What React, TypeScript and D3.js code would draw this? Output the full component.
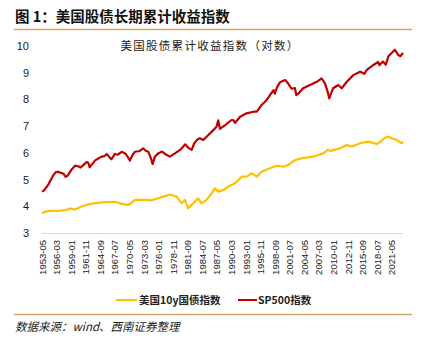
import React from "react";
import * as d3 from "d3";

const xTickLabels = [
  "1953-05","1956-03","1959-01","1961-11","1964-09","1967-07","1970-05","1973-03",
  "1976-01","1978-11","1981-09","1984-07","1987-05","1990-03","1993-01","1995-11",
  "1998-09","2001-07","2004-05","2007-03","2010-01","2012-11","2015-09","2018-07","2021-05",
];
const yTicks = [3, 4, 5, 6, 7, 8, 9, 10];

const spDates = [
  "1953-05","1953-10","1954-08","1955-07","1956-01","1956-07","1957-01","1957-07","1957-12","1958-05",
  "1959-02","1959-10","1960-05","1960-11","1961-06","1962-01","1962-05","1962-08","1963-02","1963-09",
  "1964-05","1964-12","1965-07","1965-12","1966-07","1966-11","1967-07","1968-01","1968-11","1969-07",
  "1970-01","1970-06","1970-12","1971-06","1972-05","1973-01","1973-07","1974-01","1974-07","1974-11",
  "1975-04","1975-12","1976-09","1977-04","1978-03","1979-03","1980-03","1980-11","1981-03","1981-10",
  "1982-06","1982-12","1983-06","1984-01","1984-09","1985-09","1986-09","1987-04","1987-08","1987-12",
  "1988-12","1990-03","1990-08","1990-11","1991-11","1993-02","1994-06","1995-02","1996-01","1997-01",
  "1997-09","1998-05","1998-08","1999-01","1999-08","2000-08","2001-02","2001-07","2001-11","2002-07",
  "2002-10","2003-03","2004-02","2005-06","2006-10","2007-09","2008-05","2008-11","2009-03","2009-12",
  "2010-12","2011-08","2012-08","2013-11","2015-03","2016-01","2016-06","2017-10","2018-09","2018-12",
  "2019-08","2020-03","2020-09","2021-05","2021-12","2022-08","2023-01","2023-07",
];
const spValues = [
  4.55,4.60,4.82,5.15,5.28,5.29,5.25,5.22,5.10,5.15,
  5.38,5.52,5.50,5.45,5.55,5.66,5.63,5.46,5.58,5.72,
  5.80,5.86,5.88,5.96,5.82,5.76,5.96,5.93,6.04,5.98,
  5.85,5.71,5.92,6.04,6.07,6.17,6.08,6.04,5.80,5.58,
  5.85,5.98,6.05,5.96,5.86,5.98,6.11,6.25,6.32,6.19,
  6.11,6.35,6.48,6.55,6.48,6.67,6.86,6.98,7.22,6.90,
  7.04,7.23,7.22,7.12,7.35,7.48,7.54,7.54,7.79,7.98,
  8.17,8.35,8.22,8.45,8.64,8.73,8.62,8.50,8.40,8.42,
  8.16,8.22,8.42,8.54,8.66,8.79,8.60,8.30,8.04,8.42,
  8.54,8.42,8.66,8.91,9.04,8.96,9.10,9.29,9.40,9.28,
  9.42,9.30,9.62,9.75,9.86,9.66,9.62,9.74,
];

const bondDates = [
  "1953-05","1954-01","1955-01","1956-09","1958-02","1958-10","1959-10","1961-02","1962-07","1965-01",
  "1967-07","1968-11","1970-01","1970-06","1971-06","1973-01","1974-07","1975-12","1977-04","1978-03",
  "1979-07","1980-07","1981-02","1981-10","1982-10","1983-09","1984-05","1985-05","1986-05","1986-12",
  "1987-08","1988-08","1989-07","1990-11","1992-03","1993-02","1994-02","1995-02","1996-01","1997-09",
  "1998-12","2000-04","2001-04","2002-07","2003-11","2005-02","2006-06","2008-01","2008-12","2009-05",
  "2011-04","2012-08","2013-08","2015-03","2016-10","2018-06","2020-05","2021-05","2022-04","2023-04",
  "2023-07",
];
const bondValues = [
  3.75,3.80,3.83,3.83,3.86,3.92,3.88,4.00,4.08,4.15,
  4.17,4.09,4.05,4.08,4.24,4.25,4.22,4.30,4.38,4.44,
  4.36,4.11,4.24,3.93,4.11,4.30,4.11,4.24,4.49,4.67,
  4.55,4.61,4.73,4.86,5.11,5.11,5.23,5.11,5.29,5.42,
  5.52,5.48,5.55,5.73,5.80,5.83,5.88,5.98,6.12,6.07,
  6.17,6.29,6.24,6.36,6.42,6.33,6.61,6.55,6.48,6.36,
  6.42,
];

const parse = d3.timeParse("%Y-%m");

export default function App() {
  const W = 426, H = 340;
  const x = d3.scaleTime()
    .domain([parse("1953-05")!, parse("2023-07")!])
    .range([42, 403]);
  const y = d3.scaleLinear().domain([3, 10]).range([233, 46]);

  const line = d3.line<[Date, number]>()
    .x((d) => x(d[0]))
    .y((d) => y(d[1]))
    .curve(d3.curveLinear);

  const spPts: [Date, number][] = spDates.map((d, i) => [parse(d)!, spValues[i]]);
  const bondPts: [Date, number][] = bondDates.map((d, i) => [parse(d)!, bondValues[i]]);

  const sans = "'Liberation Sans', Arial, 'Noto Sans CJK SC', sans-serif";
  const cjk = "'Noto Sans CJK SC', 'Liberation Sans', sans-serif";

  return (
    <svg width={W} height={H} style={{ position: "absolute", left: 0, top: 0, background: "#fff" }}>
      <text x={15} y={21.5} fontFamily={cjk} fontSize={14.5} fontWeight="bold" fill="#111">
        图 1：美国股债长期累计收益指数
      </text>
      <line x1={14} x2={412} y1={29.5} y2={29.5} stroke="#D2A66A" strokeWidth={1.5} />

      <text x={210} y={50} textAnchor="middle" fontFamily={cjk} fontSize={11.5} letterSpacing={1.3} fill="#222">
        美国股债累计收益指数（对数）
      </text>

      {yTicks.map((t) => (
        <text key={t} x={29} y={y(t) + 4} textAnchor="end" fontFamily={sans} fontSize={11} fill="#222">
          {t}
        </text>
      ))}

      <line x1={42} x2={403} y1={233.5} y2={233.5} stroke="#d9d9d9" strokeWidth={1} />

      {xTickLabels.map((l) => {
        const px = x(parse(l)!);
        return (
          <text key={l} transform={`translate(${px + 3.5},240) rotate(-90)`} textAnchor="end"
            fontFamily={sans} fontSize={9.5} fill="#222">
            {l}
          </text>
        );
      })}

      <path d={line(bondPts) || ""} fill="none" stroke="#FFC000" strokeWidth={2.2} strokeLinejoin="round" />
      <path d={line(spPts) || ""} fill="none" stroke="#C00000" strokeWidth={2.2} strokeLinejoin="round" />

      <line x1={116} x2={137} y1={300} y2={300} stroke="#FFC000" strokeWidth={2} />
      <text x={139} y={304} fontFamily={cjk} fontSize={10.5} fontWeight="bold" fill="#222">美国10y国债指数</text>
      <line x1={238} x2={257} y1={300} y2={300} stroke="#C00000" strokeWidth={2} />
      <text x={258} y={304} fontFamily={cjk} fontSize={10.5} fontWeight="bold" fill="#222">SP500指数</text>

      <line x1={14} x2={412} y1={314.5} y2={314.5} stroke="#D2A66A" strokeWidth={1.5} />
      <text x={15} y={331} fontFamily={cjk} fontSize={11.5} fontStyle="italic" fill="#222">
        数据来源：wind、西南证券整理
      </text>
    </svg>
  );
}
